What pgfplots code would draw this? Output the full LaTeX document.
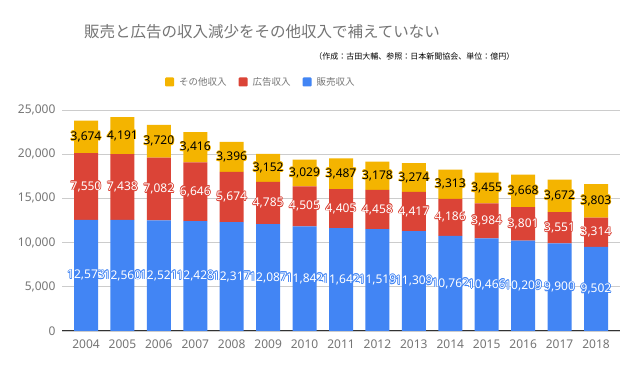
\documentclass[border=0pt]{standalone}
\usepackage{pgfplots}
\pgfplotsset{compat=1.18}
\usepackage{pgfplotstable}
\usepackage{fontspec}
\setmainfont{Noto Sans}
\newfontfamily\jp{Noto Sans CJK JP}
\definecolor{gblue}{HTML}{4285F4}
\definecolor{gred}{HTML}{DB4437}
\definecolor{gyellow}{HTML}{F4B400}
\definecolor{tgrey}{HTML}{757575}
\definecolor{gridc}{HTML}{CCCCCC}

\newcommand\outl[3]{\leavevmode
  \rlap{\color{#1}\kern-0.7pt#3}\rlap{\color{#1}\kern0.7pt#3}%
  \rlap{\color{#1}\raisebox{0.7pt}{#3}}\rlap{\color{#1}\raisebox{-0.7pt}{#3}}%
  \rlap{\color{#1}\kern-0.5pt\raisebox{0.5pt}{#3}}\rlap{\color{#1}\kern0.5pt\raisebox{0.5pt}{#3}}%
  \rlap{\color{#1}\kern-0.5pt\raisebox{-0.5pt}{#3}}\rlap{\color{#1}\kern0.5pt\raisebox{-0.5pt}{#3}}%
  {\color{#2}#3}}

\pgfplotstableread{
x year hanbai kokoku sonota
0 2004 12573 7550 3674
1 2005 12560 7438 4191
2 2006 12521 7082 3720
3 2007 12428 6646 3416
4 2008 12317 5674 3396
5 2009 12087 4785 3152
6 2010 11842 4505 3029
7 2011 11642 4405 3487
8 2012 11519 4458 3178
9 2013 11309 4417 3274
10 2014 10762 4186 3313
11 2015 10466 3984 3455
12 2016 10209 3801 3668
13 2017 9900 3551 3672
14 2018 9502 3314 3803
}\datatable

\pgfplotsset{
  common/.style={
    at={(62pt,40pt)}, anchor=south west, scale only axis,
    width=558pt, height=221pt,
    xmin=-0.659, xmax=14.659, ymin=0, ymax=25000,
  },
  lbl/.style n args={2}{
    nodes near coords={\outl{#1}{#2}{\pgfmathprintnumber[fixed,precision=0,1000 sep={,},assume math mode=true]{\pgfplotspointmeta}}},
    every node near coord/.append style={anchor=center, font=\fontsize{12}{14}\selectfont, inner sep=0pt},
  }
}

\begin{document}
\begin{tikzpicture}[x=1pt,y=1pt]
\useasboundingbox[fill=white] (0,0) rectangle (639,371);
\node[font=\jp\fontsize{15.5}{18}\selectfont, text=tgrey] at (262,339) {販売と広告の収入減少をその他収入で補えていない};
\node[font=\jp\fontsize{8}{10}\selectfont, anchor=east, text=black] at (518,315) {（作成：古田大輔、参照：日本新聞協会、単位：億円）};
\begin{axis}[common,
  ybar stacked, bar width=24pt,
  xtick=data,
  xticklabels={2004,2005,2006,2007,2008,2009,2010,2011,2012,2013,2014,2015,2016,2017,2018},
  ytick={0,5000,10000,15000,20000,25000},
  scaled y ticks=false,
  /pgf/number format/.cd, 1000 sep={,}, assume math mode=true, /pgfplots/.cd,
  major tick length=0pt,
  axis line style={draw=none},
  ymajorgrids, grid style={gridc, line width=0.8pt},
  ticklabel style={font=\fontsize{12}{14}\selectfont, text=tgrey},
  yticklabel style={xshift=-3pt},
  xticklabel style={yshift=-5pt},
  legend style={at={(0.3566,1.1267)}, anchor=center, draw=none, fill=none,
    legend columns=3, font=\jp\fontsize{9.5}{11}\selectfont, text=tgrey,
    /tikz/every odd column/.append style={column sep=3pt},
    /tikz/every even column/.append style={column sep=10pt}},
  legend image code/.code={\fill[#1, draw=none, rounded corners=1pt] (0pt,-4.5pt) rectangle (9pt,4.5pt);},
  reverse legend,
]
\addplot[fill=gblue, draw=none] table[x=x, y=hanbai] \datatable;
\addlegendentry{販売収入}
\addplot[fill=gred, draw=none] table[x=x, y=kokoku] \datatable;
\addlegendentry{広告収入}
\addplot[fill=gyellow, draw=none] table[x=x, y=sonota] \datatable;
\addlegendentry{その他収入}
\draw[black!80, line width=1pt] (axis cs:-0.659,0) -- (axis cs:14.659,0);
\end{axis}
\begin{axis}[common, hide axis]
\addplot[draw=none, mark=none, point meta=\thisrow{hanbai}, lbl={gblue}{white}]
  table[x=x, y expr=\thisrow{hanbai}/2] \datatable;
\addplot[draw=none, mark=none, point meta=\thisrow{kokoku}, lbl={gred}{white}]
  table[x=x, y expr=\thisrow{hanbai}+\thisrow{kokoku}/2] \datatable;
\addplot[draw=none, mark=none, point meta=\thisrow{sonota}, lbl={gyellow}{black}]
  table[x=x, y expr=\thisrow{hanbai}+\thisrow{kokoku}+\thisrow{sonota}/2] \datatable;
\end{axis}
\end{tikzpicture}
\end{document}
